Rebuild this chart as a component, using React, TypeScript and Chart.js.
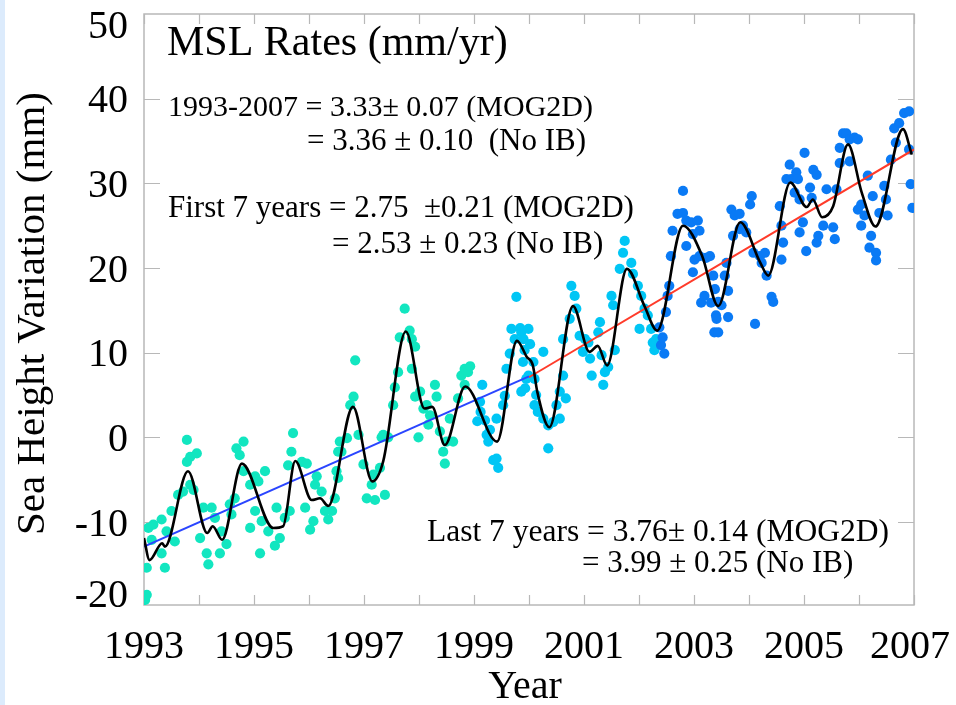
import React, { useEffect, useRef } from "react";
import { Chart, registerables } from "chart.js";

Chart.register(...registerables);

const SERIF = '"Liberation Serif", "Times New Roman", Times, serif';

// Tick values
const X_TICK_YEARS = [1993, 1994, 1995, 1996, 1997, 1998, 1999, 2000, 2001, 2002, 2003, 2004, 2005, 2006, 2007];
const X_LABEL_YEARS = [1993, 1995, 1997, 1999, 2001, 2003, 2005, 2007];
const Y_TICK_VALUES = [-10, 0, 10, 20, 30, 40];
const Y_LABEL_VALUES = [-20, -10, 0, 10, 20, 30, 40, 50];

// TOPEX (first part) – turquoise dots  [year, mm]
const topexA: number[][] = [
  [1993.02, -19.2], [1993.05, -18.6], [1993.05, -15.4], [1993.08, -10.7], [1993.14, -12.1], [1993.17, -10.3],
  [1993.32, -9.7], [1993.32, -13.7], [1993.38, -15.4], [1993.41, -11.1], [1993.5, -8.7], [1993.56, -12.3],
  [1993.62, -6.8], [1993.71, -6.4], [1993.78, -2.9], [1993.78, -0.3], [1993.84, -2.3], [1993.84, -5.6],
  [1993.9, -6.2], [1993.96, -1.9], [1994.02, -11.9], [1994.08, -8.3], [1994.14, -13.7], [1994.17, -15.0],
  [1994.23, -8.3], [1994.29, -9.5], [1994.38, -13.7], [1994.41, -11.1], [1994.5, -12.6], [1994.56, -7.9],
  [1994.59, -9.1], [1994.65, -7.2], [1994.68, -1.3], [1994.74, -2.1], [1994.81, -0.5], [1994.81, -4.0],
  [1994.93, -5.6], [1994.93, -10.7], [1995.02, -4.6], [1995.02, -8.7], [1995.08, -5.2], [1995.11, -13.7],
  [1995.14, -9.9], [1995.2, -4.0], [1995.26, -11.1], [1995.38, -12.8], [1995.41, -8.3], [1995.47, -11.9],
  [1995.56, -9.5], [1995.62, -3.3], [1995.65, -8.7], [1995.68, -1.7], [1995.71, 0.5], [1995.87, -2.9],
  [1995.93, -8.3], [1995.96, -3.1], [1996.02, -10.9], [1996.08, -9.9], [1996.11, -5.6], [1996.14, -4.6],
  [1996.23, -6.4], [1996.29, -8.7], [1996.35, -9.7], [1996.42, -8.7], [1996.47, -7.2], [1996.5, -4.0],
  [1996.53, -1.7], [1996.53, -4.8], [1996.56, -0.5], [1996.59, -1.7], [1996.69, -0.1], [1996.75, 3.8],
  [1996.81, 4.8], [1996.84, 9.1], [1996.9, 0.3], [1996.99, -3.2], [1997.05, -7.2], [1997.14, -5.6],
  [1997.17, -4.4], [1997.2, -7.4], [1997.29, -3.6], [1997.32, 0.0], [1997.35, 0.3], [1997.38, -6.8],
  [1997.44, 0.0], [1997.53, 3.8], [1997.56, 5.9], [1997.62, 7.7], [1997.65, 11.8], [1997.74, 15.2],
  [1997.83, 12.6], [1997.87, 11.6], [1997.87, 8.1], [1997.93, 10.7], [1997.93, 4.8], [1997.99, 0.0],
  [1998.02, 5.4], [1998.08, 3.4], [1998.14, 3.8], [1998.17, 1.5], [1998.2, 2.6], [1998.29, 6.2],
  [1998.32, 4.8], [1998.38, 0.7], [1998.44, -1.7], [1998.47, -3.1], [1998.5, -0.5], [1998.56, 2.2],
  [1998.62, -0.5], [1998.71, 4.6], [1998.77, 7.3], [1998.83, 8.1], [1998.83, 6.2], [1998.89, 7.7],
  [1998.93, 8.4],
];

// TOPEX (second part) – light blue dots
const topexB: number[][] = [
  [1999.06, 1.9], [1999.11, 4.2], [1999.12, 3.0], [1999.15, 6.2], [1999.2, 2.0], [1999.23, 0.3],
  [1999.26, -0.5], [1999.29, 0.9], [1999.35, -2.7], [1999.41, 2.2], [1999.41, -2.5], [1999.44, -3.6],
  [1999.53, 3.8], [1999.56, 4.9], [1999.59, 8.1], [1999.65, 9.9], [1999.68, 12.8], [1999.74, 11.6],
  [1999.77, 16.6], [1999.84, 12.9], [1999.86, 12.4], [1999.86, 5.4], [1999.89, 8.9], [1999.9, 11.6],
  [1999.92, 10.3], [1999.93, 5.8], [1999.95, 6.9], [1999.99, 12.8], [1999.99, 7.3], [2000.02, 11.0],
  [2000.08, 8.9], [2000.1, 6.9], [2000.1, 3.8], [2000.13, 5.0], [2000.16, 3.0], [2000.26, 10.1],
  [2000.26, 2.2], [2000.35, 1.4], [2000.35, -1.3], [2000.44, 1.8], [2000.5, 3.8], [2000.56, 2.2],
  [2000.56, 5.4], [2000.62, 7.3], [2000.62, 11.6], [2000.67, 4.6], [2000.74, 14.0], [2000.77, 17.9],
  [2000.83, 16.7], [2000.86, 15.2], [2000.92, 12.0], [2000.98, 10.1], [2001.02, 11.6], [2001.08, 11.2],
  [2001.11, 9.3], [2001.14, 7.3], [2001.26, 12.4], [2001.29, 13.6], [2001.32, 9.7], [2001.35, 6.2],
  [2001.38, 7.7], [2001.44, 8.3], [2001.5, 16.7], [2001.53, 15.6], [2001.56, 10.3], [2001.65, 19.9],
  [2001.71, 21.8], [2001.74, 23.2], [2001.86, 20.6], [2001.89, 19.3], [2001.98, 17.9], [2002.01, 12.8],
  [2002.04, 16.7], [2002.1, 15.2], [2002.16, 14.4], [2002.22, 12.8], [2002.25, 11.2], [2002.28, 10.3],
  [2002.31, 11.6],
];

// Jason-1 – blue dots
const jason: number[][] = [
  [2002.37, 13.0], [2002.4, 10.9], [2002.43, 11.8], [2002.46, 9.9], [2002.49, 14.8], [2002.52, 16.7],
  [2002.55, 17.9], [2002.58, 21.4], [2002.61, 24.4], [2002.7, 26.4], [2002.8, 29.1], [2002.8, 26.5],
  [2002.86, 25.6], [2002.86, 22.6], [2002.95, 25.4], [2002.98, 24.0], [2002.98, 19.5], [2003.01, 21.0],
  [2003.07, 25.6], [2003.1, 24.4], [2003.1, 21.4], [2003.13, 15.9], [2003.19, 16.7], [2003.22, 21.2],
  [2003.29, 21.4], [2003.31, 15.9], [2003.35, 19.1], [2003.37, 12.4], [2003.38, 17.5], [2003.4, 14.4],
  [2003.41, 14.0], [2003.44, 16.0], [2003.44, 12.4], [2003.5, 15.6], [2003.56, 19.1], [2003.59, 20.6],
  [2003.62, 17.3], [2003.62, 14.2], [2003.68, 26.9], [2003.71, 23.8], [2003.74, 26.2], [2003.83, 26.4],
  [2003.83, 24.6], [2003.89, 25.0], [2003.95, 24.2], [2004.02, 27.5], [2004.05, 28.5], [2004.08, 21.8],
  [2004.11, 13.4], [2004.2, 21.4], [2004.23, 20.6], [2004.29, 21.8], [2004.32, 19.1], [2004.41, 16.6],
  [2004.44, 16.0], [2004.56, 27.3], [2004.59, 25.0], [2004.59, 21.0], [2004.62, 23.0], [2004.68, 30.5],
  [2004.74, 32.2], [2004.77, 30.5], [2004.83, 28.9], [2004.86, 31.3], [2004.89, 30.5], [2004.92, 28.1],
  [2004.92, 24.2], [2004.98, 25.4], [2005.01, 33.6], [2005.04, 22.0], [2005.11, 29.5], [2005.14, 28.3],
  [2005.17, 31.6], [2005.23, 31.0], [2005.23, 23.0], [2005.26, 23.8], [2005.35, 25.0], [2005.41, 29.3],
  [2005.53, 24.8], [2005.56, 23.4], [2005.59, 29.3], [2005.65, 34.2], [2005.65, 32.4], [2005.71, 35.9],
  [2005.77, 35.9], [2005.83, 35.2], [2005.83, 32.6], [2005.92, 35.4], [2005.98, 35.2], [2005.98, 26.9],
  [2006.04, 27.5], [2006.04, 25.0], [2006.1, 26.2], [2006.16, 30.9], [2006.19, 22.4], [2006.22, 23.8],
  [2006.25, 28.5], [2006.31, 21.8], [2006.31, 20.9], [2006.37, 26.5], [2006.46, 29.7], [2006.49, 28.1],
  [2006.52, 26.2], [2006.58, 32.8], [2006.64, 36.5], [2006.67, 34.8], [2006.73, 37.1], [2006.82, 38.3],
  [2006.91, 38.5], [2006.91, 34.0], [2006.94, 29.9], [2006.97, 27.1],
];

// Smoothed series (black curve)
const smoothed: number[][] = [
  [1993.0, -11.9], [1993.1, -14.5], [1993.33, -12.5], [1993.38, -12.9], [1993.8, -4.0], [1994.15, -11.3],
  [1994.25, -10.5], [1994.42, -12.1], [1994.78, -3.1], [1995.35, -10.7], [1995.53, -10.5], [1995.75, -2.8],
  [1996.05, -7.4], [1996.2, -7.2], [1996.35, -8.1], [1996.8, 3.6], [1997.15, -5.2], [1997.35, -2.8],
  [1997.76, 12.5], [1998.1, 3.4], [1998.24, 3.6], [1998.47, -0.9], [1998.84, 6.0], [1999.42, -0.5],
  [1999.78, 11.4], [1999.96, 9.5], [2000.07, 8.5], [2000.15, 5.4], [2000.37, 1.2], [2000.8, 15.5],
  [2001.1, 10.1], [2001.25, 10.8], [2001.42, 8.5], [2001.78, 19.9], [2002.1, 15.5], [2002.33, 12.6],
  [2002.8, 25.0], [2003.15, 21.4], [2003.44, 15.5], [2003.84, 25.4], [2004.2, 20.7], [2004.35, 19.1],
  [2004.75, 30.1], [2005.05, 27.2], [2005.16, 28.1], [2005.33, 26.0], [2005.53, 27.3], [2005.8, 34.6],
  [2006.05, 28.9], [2006.3, 24.9], [2006.8, 36.4], [2006.96, 33.4],
];

// Linear trends
const trendFirst: number[][] = [[1993.0, -12.9], [2000.0, 7.2]];
const trendLast: number[][] = [[2000.0, 7.1], [2007.0, 34.0]];

// Annotation texts: [text, yearAnchor, mmBaseline, fontSize]
const ANNOTATIONS: [string, number, number, number][] = [
  ["MSL Rates (mm/yr)", 1993.418, 45.1, 42],
  ["1993-2007 = 3.33\u00b1 0.07 (MOG2D)", 1993.436, 38.0, 30],
  ["= 3.36 \u00b1 0.10  (No IB)", 1995.964, 33.9, 31],
  ["First 7 years = 2.75  \u00b10.21 (MOG2D)", 1993.436, 26.0, 31],
  ["= 2.53 \u00b1 0.23 (No IB)", 1996.418, 21.8, 31],
  ["Last 7 years = 3.76\u00b1 0.14 (MOG2D)", 1998.145, -12.2, 31.5],
  ["= 3.99 \u00b1 0.25 (No IB)", 2000.964, -15.9, 31],
];

const X_TITLE = "Year";
const Y_TITLE = "Sea Height Variation (mm)";

const toPts = (arr: number[][]) => arr.map(([x, y]) => ({ x, y }));

const decorPlugin = {
  id: "decor",
  beforeDraw(chart: any) {
    const ctx = chart.ctx;
    ctx.save();
    ctx.fillStyle = "#ffffff";
    ctx.fillRect(0, 0, chart.width, chart.height);
    ctx.fillStyle = "#dcebfc";
    ctx.fillRect(0, 0, 5, chart.height);
    ctx.restore();
  },
  beforeDatasetsDraw(chart: any) {
    const { ctx, chartArea: a, scales } = chart;
    const xs = scales.x, ys = scales.y;
    ctx.save();
    ctx.strokeStyle = "#b8b8b8";
    ctx.lineWidth = 1.5;
    ctx.strokeRect(a.left, a.top, a.right - a.left, a.bottom - a.top);
    ctx.lineWidth = 1.2;
    ctx.beginPath();
    for (const yr of X_TICK_YEARS) {
      const px = Math.round(xs.getPixelForValue(yr)) + 0.5;
      ctx.moveTo(px, a.bottom);
      ctx.lineTo(px, a.bottom - 10);
      ctx.moveTo(px, a.top);
      ctx.lineTo(px, a.top + 10);
    }
    for (const v of Y_TICK_VALUES) {
      const py = Math.round(ys.getPixelForValue(v)) + 0.5;
      ctx.moveTo(a.left, py);
      ctx.lineTo(a.left + 16, py);
      ctx.moveTo(a.right, py);
      ctx.lineTo(a.right - 16, py);
    }
    ctx.stroke();
    ctx.restore();
  },
  afterDraw(chart: any) {
    const { ctx, chartArea: a, scales } = chart;
    const xs = scales.x, ys = scales.y;
    ctx.save();
    ctx.fillStyle = "#000000";
    // y tick labels
    ctx.font = `40px ${SERIF}`;
    ctx.textAlign = "right";
    ctx.textBaseline = "alphabetic";
    for (const v of Y_LABEL_VALUES) {
      const p = ys.getPixelForValue(v) + 13.5;
      const b = Math.min(Math.max(p, a.top + 24), a.bottom + 2);
      ctx.fillText(String(v), a.left - 16, b);
    }
    // x tick labels
    ctx.textAlign = "center";
    for (const yr of X_LABEL_YEARS) {
      const label = String(yr);
      const w = ctx.measureText(label).width;
      const cx = Math.min(xs.getPixelForValue(yr), chart.width - 6 - w / 2);
      ctx.fillText(label, cx, a.bottom + 53);
    }
    // axis titles
    ctx.fillText(X_TITLE, (a.left + a.right) / 2 - 4, a.bottom + 93);
    ctx.save();
    ctx.font = `41px ${SERIF}`;
    ctx.translate(44, (a.top + a.bottom) / 2 + 4);
    ctx.rotate(-Math.PI / 2);
    ctx.textAlign = "center";
    ctx.fillText(Y_TITLE, 0, 0);
    ctx.restore();
    // annotations
    ctx.textAlign = "left";
    for (const [text, yr, mm, size] of ANNOTATIONS) {
      ctx.font = `${size}px ${SERIF}`;
      ctx.fillText(text, xs.getPixelForValue(yr), ys.getPixelForValue(mm));
    }
    ctx.restore();
  },
};

export default function App() {
  const canvasRef = useRef<HTMLCanvasElement | null>(null);

  useEffect(() => {
    document.body.style.margin = "0";
    const canvas = canvasRef.current;
    if (!canvas) return;
    const dot = (color: string) => ({
      pointRadius: 5.1,
      pointBackgroundColor: color,
      pointBorderWidth: 0,
      pointBorderColor: color,
      showLine: false,
    });
    const chart = new Chart(canvas, {
      type: "scatter",
      data: {
        datasets: [
          {
            label: "smoothed",
            data: toPts(smoothed),
            showLine: true,
            borderColor: "#000000",
            borderWidth: 2.6,
            pointRadius: 0,
            cubicInterpolationMode: "monotone",
          } as any,
          {
            label: "trend 1993-2000",
            data: toPts(trendFirst),
            showLine: true,
            borderColor: "#2a45ff",
            borderWidth: 2,
            pointRadius: 0,
          },
          {
            label: "trend 2000-2007",
            data: toPts(trendLast),
            showLine: true,
            borderColor: "#ff3b2a",
            borderWidth: 2,
            pointRadius: 0,
          },
          { label: "Jason-1", data: toPts(jason), ...dot("#0a7af5") } as any,
          { label: "TOPEX B", data: toPts(topexB), ...dot("#00c6f5") } as any,
          { label: "TOPEX A", data: toPts(topexA), ...dot("#12e6c0") } as any,
        ],
      },
      options: {
        responsive: false,
        animation: false,
        layout: { padding: { left: 0, right: 42, top: 14, bottom: 0 } },
        plugins: { legend: { display: false }, tooltip: { enabled: false } },
        scales: {
          x: {
            type: "linear",
            min: 1993,
            max: 2007,
            grid: { display: false },
            border: { display: false },
            ticks: { display: false },
            afterFit: (s: any) => {
              s.height = 100;
            },
          },
          y: {
            type: "linear",
            min: -19.8,
            max: 50,
            grid: { display: false },
            border: { display: false },
            ticks: { display: false },
            afterFit: (s: any) => {
              s.width = 144;
            },
          },
        },
      } as any,
      plugins: [decorPlugin],
    });
    return () => chart.destroy();
  }, []);

  return (
    <div style={{ position: "relative", width: 956, height: 705 }}>
      <canvas ref={canvasRef} width={956} height={705} />
    </div>
  );
}
